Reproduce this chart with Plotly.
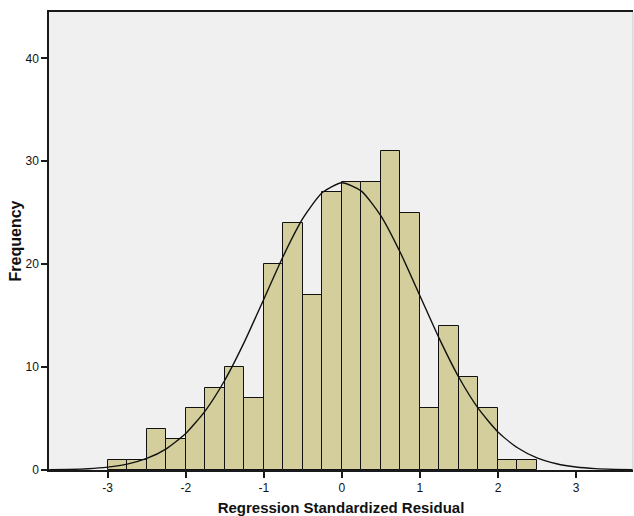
import plotly.graph_objects as go

# Histogram of regression standardized residuals (bin width 0.25)
bin_start = [-3.0, -2.75, -2.5, -2.25, -2.0, -1.75, -1.5, -1.25, -1.0, -0.75, -0.5,
             -0.25, 0.0, 0.25, 0.5, 0.75, 1.0, 1.25, 1.5, 1.75, 2.0, 2.25]
frequency = [1, 1, 4, 3, 6, 8, 10, 7, 20, 24, 17,
             27, 28, 28, 31, 25, 6, 14, 9, 6, 1, 1]
bin_width = 0.25

# Normal curve overlay
curve_x = [-3.75, -3.5, -3.25, -3.0, -2.75, -2.5, -2.25, -2.0, -1.75, -1.5, -1.25,
           -1.0, -0.75, -0.5, -0.25, 0.0, 0.25, 0.5, 0.75, 1.0, 1.25, 1.5,
           1.75, 2.0, 2.25, 2.5, 2.75, 3.0, 3.25, 3.5, 3.75]
curve_y = [0.02, 0.05, 0.12, 0.28, 0.57, 1.12, 2.06, 3.55, 5.75, 8.72, 12.42,
           16.59, 20.79, 24.44, 26.96, 27.91, 27.10, 24.69, 21.11, 16.93, 12.74, 8.99,
           5.96, 3.70, 2.16, 1.18, 0.61, 0.29, 0.13, 0.06, 0.02]

x_ticks = [-3, -2, -1, 0, 1, 2, 3]
y_ticks = [0, 10, 20, 30, 40]

bin_center = [s + bin_width / 2 for s in bin_start]

fig = go.Figure()
fig.add_trace(go.Bar(
    x=bin_center, y=frequency, width=bin_width,
    marker=dict(color="#D3CE9B", line=dict(color="#111111", width=1)),
    hoverinfo="x+y", showlegend=False,
))
fig.add_trace(go.Scatter(
    x=curve_x, y=curve_y, mode="lines",
    line=dict(color="#111111", width=1.4, shape="spline", smoothing=0.6),
    showlegend=False, hoverinfo="skip",
))

fig.update_layout(
    width=634, height=516,
    margin=dict(l=49, r=1, t=12, b=46),
    paper_bgcolor="white", plot_bgcolor="#F0F0F0",
    font=dict(family="Liberation Sans, Arial, sans-serif", color="#111111"),
    bargap=0,
    xaxis=dict(
        range=[-3.752, 3.73], tickvals=x_ticks, ticktext=[str(v) for v in x_ticks],
        showgrid=False, zeroline=False, automargin=False,
        showline=True, linecolor="#1a1a1a", linewidth=1.5, mirror=True,
        ticks="outside", ticklen=6, tickwidth=1.5, tickcolor="#1a1a1a",
        tickfont=dict(size=12),
        title=dict(text="<b>Regression Standardized Residual</b>",
                   font=dict(size=15, color="#111111"), standoff=10),
    ),
    yaxis=dict(
        range=[0, 44.5], tickvals=y_ticks, ticktext=[str(v) for v in y_ticks],
        showgrid=False, zeroline=False, automargin=False,
        showline=True, linecolor="#1a1a1a", linewidth=1.5,
        ticks="outside", ticklen=6, tickwidth=1.5, tickcolor="#1a1a1a",
        tickfont=dict(size=12),
        title=dict(text="<b>Frequency</b>", font=dict(size=16, color="#111111"),
                   standoff=0),
    ),
)
fig.add_shape(type="line", xref="paper", yref="paper", x0=1, x1=1, y0=0, y1=1,
              line=dict(color="#C8C8C8", width=1))

fig.write_html(
    "out.html",
    config={"displayModeBar": False},
    post_script="document.body.style.margin='0px';document.body.style.overflow='hidden';",
)
